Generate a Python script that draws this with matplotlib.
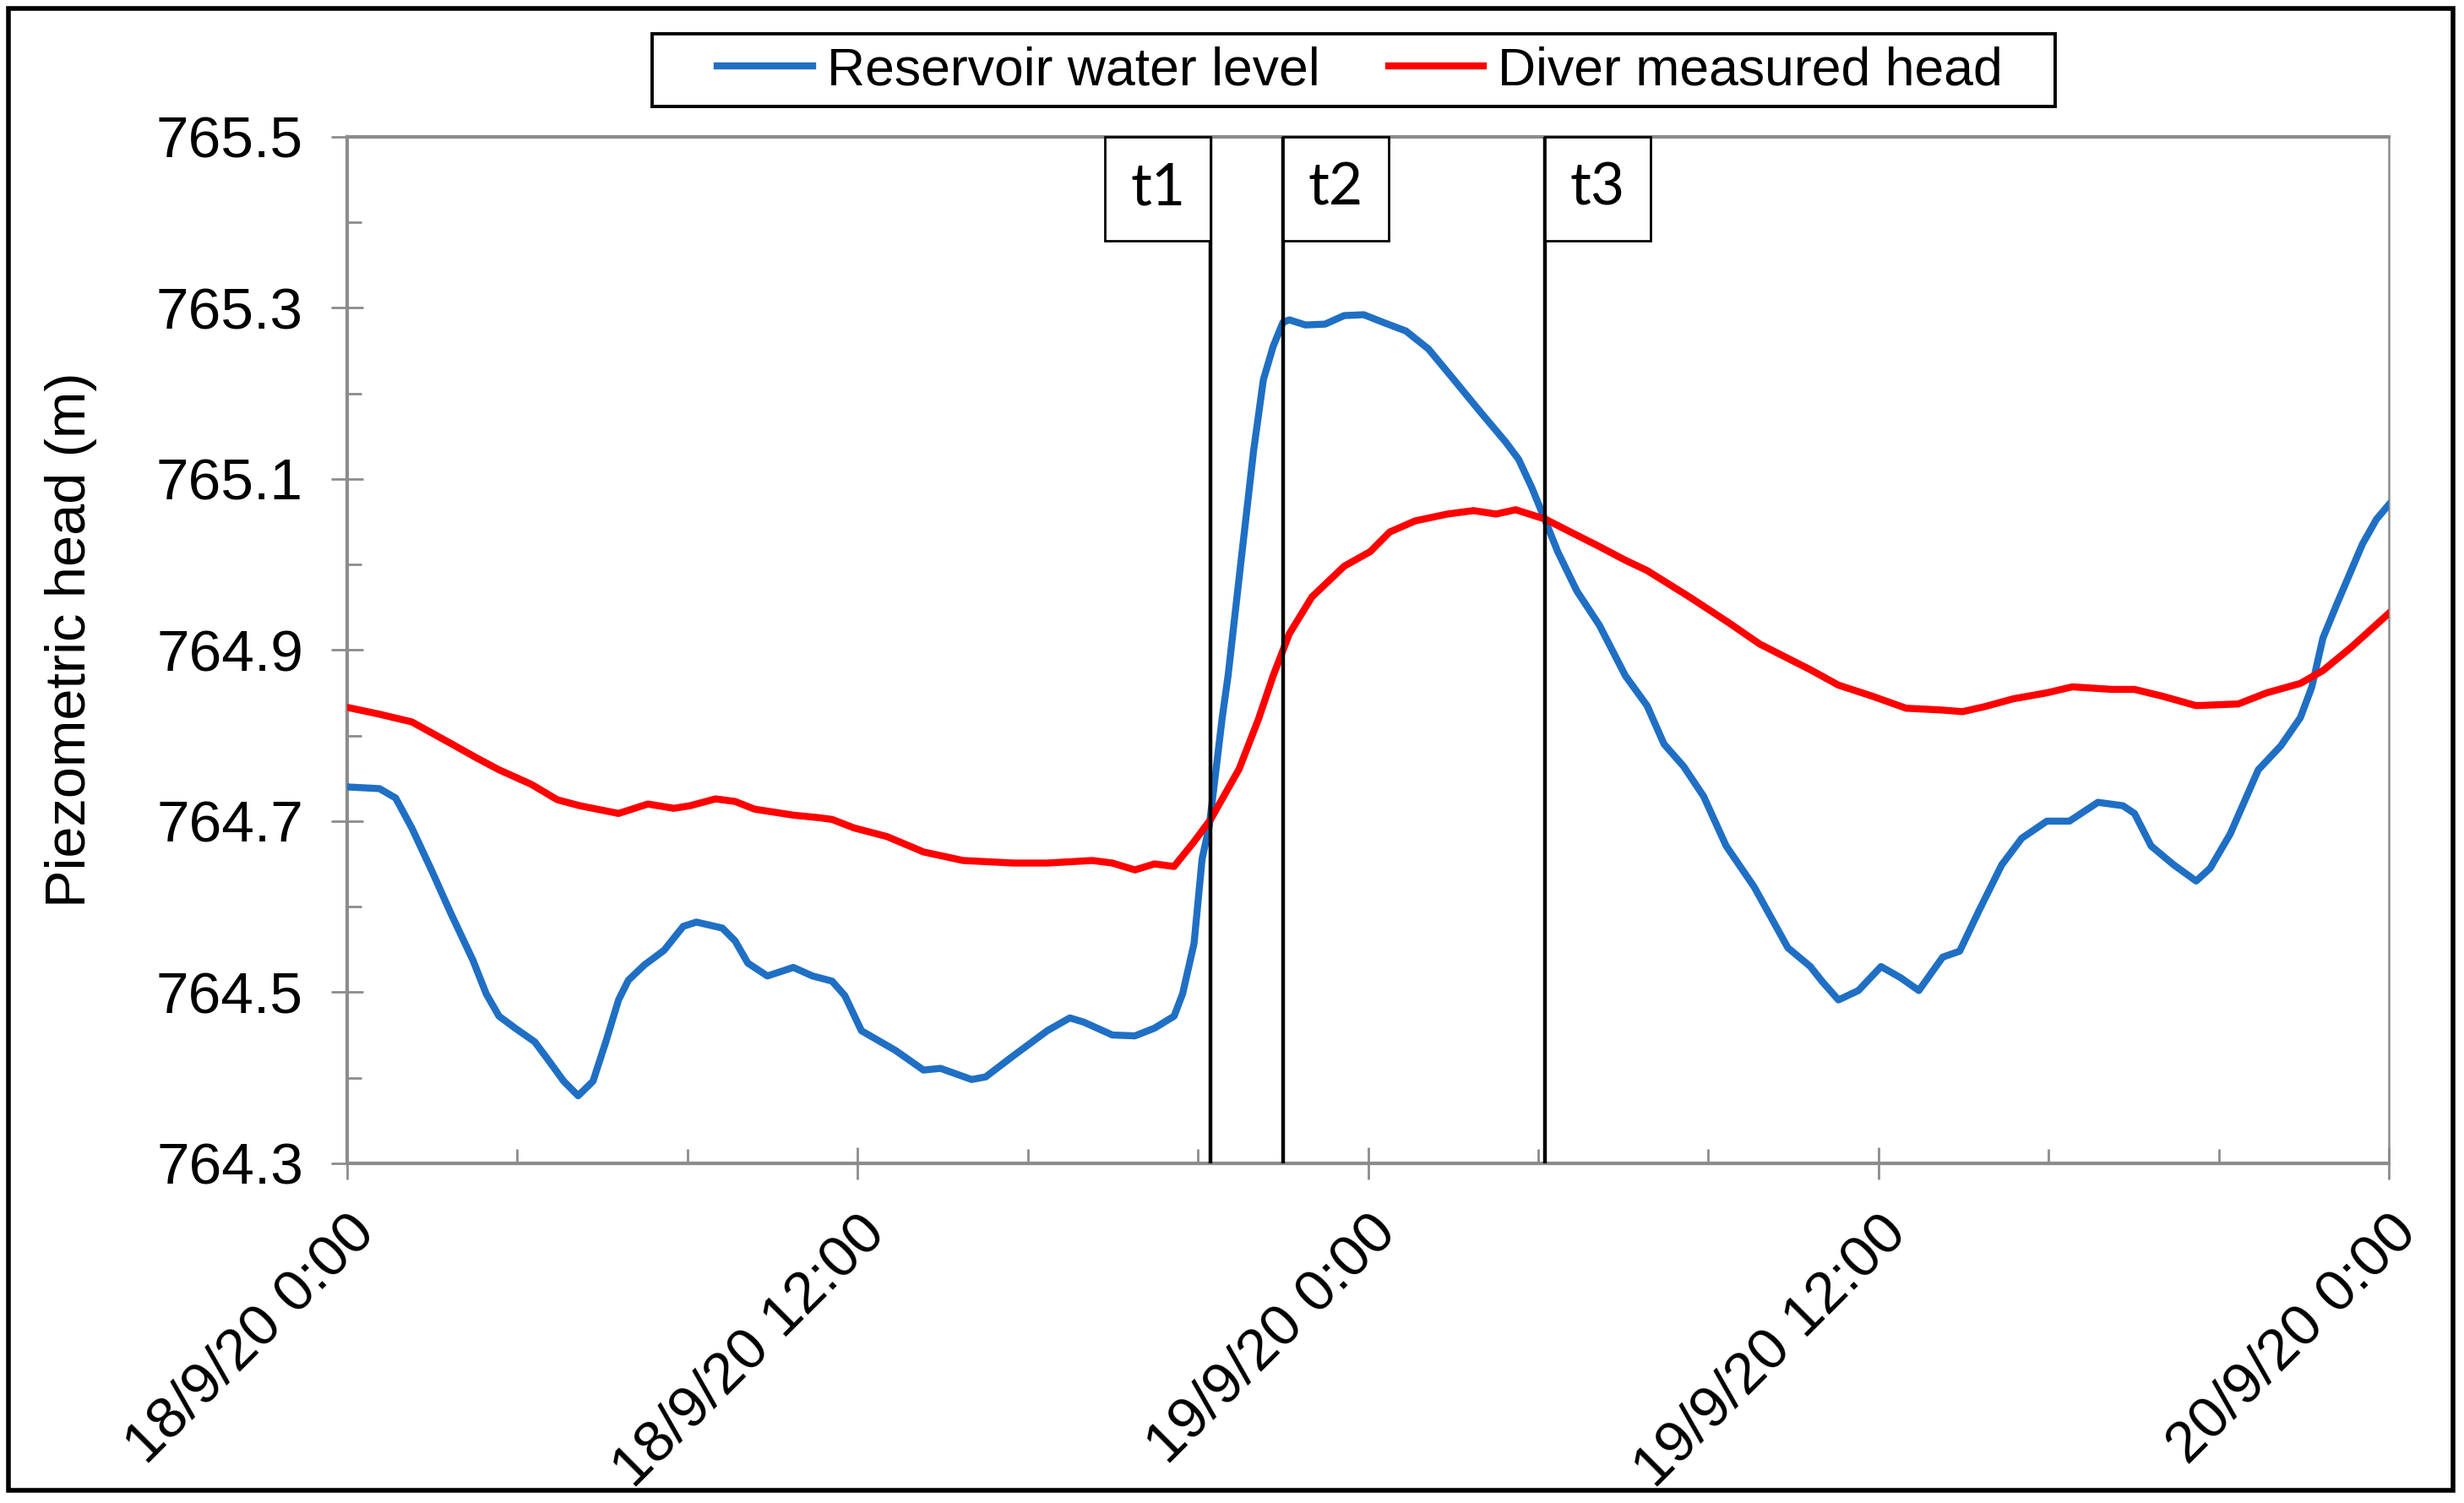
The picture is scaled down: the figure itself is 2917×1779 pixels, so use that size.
import matplotlib.pyplot as plt
from matplotlib.patches import Rectangle
from matplotlib.ticker import FixedLocator, FormatStrFormatter
from matplotlib.transforms import ScaledTranslation

# time in hours since 18/9/20 0:00
res_hours = [0, 0.76, 1.14, 1.52, 1.98, 2.43, 2.96, 3.27, 3.57, 3.95, 4.41, 4.71, 5.09, 5.43,
             5.78, 6.08, 6.38, 6.61, 6.99, 7.45, 7.90, 8.21, 8.82, 9.12, 9.42, 9.88, 10.49,
             10.94, 11.40, 11.70, 12.09, 12.89, 13.55, 13.95, 14.68, 15.01, 15.67, 16.46,
             16.99, 17.32, 17.99, 18.52, 18.98, 19.44, 19.64, 19.91, 20.10, 20.27, 20.57,
             20.71, 21.01, 21.31, 21.54, 21.77, 22.00, 22.15, 22.53, 22.99, 23.44, 23.90,
             24.36, 24.89, 25.42, 26.02, 26.63, 27.24, 27.54, 27.85, 28.17, 28.46, 28.91,
             29.44, 30.05, 30.56, 30.96, 31.42, 31.89, 32.42, 33.08, 33.87, 34.40, 34.67,
             35.06, 35.53, 36.06, 36.52, 36.95, 37.51, 37.91, 38.37, 38.90, 39.37, 39.96,
             40.49, 41.16, 41.75, 42.02, 42.41, 42.94, 43.47, 43.80, 44.27, 44.93, 45.46,
             45.92, 46.19, 46.45, 46.78, 47.38, 47.71, 48.0]
res_level = [764.740, 764.738, 764.727, 764.692, 764.643, 764.593, 764.537, 764.498, 764.472,
             764.458, 764.442, 764.422, 764.396, 764.379, 764.396, 764.442, 764.491, 764.514,
             764.532, 764.549, 764.577, 764.582, 764.575, 764.560, 764.534, 764.519, 764.529,
             764.519, 764.513, 764.496, 764.455, 764.432, 764.409, 764.411, 764.398, 764.401,
             764.426, 764.455, 764.470, 764.465, 764.450, 764.449, 764.458, 764.472, 764.498,
             764.557, 764.656, 764.695, 764.820, 764.870, 765.002, 765.133, 765.216, 765.255,
             765.283, 765.286, 765.280, 765.281, 765.291, 765.292, 765.283, 765.273, 765.252,
             765.216, 765.179, 765.143, 765.123, 765.090, 765.051, 765.015, 764.969, 764.929,
             764.870, 764.835, 764.790, 764.764, 764.729, 764.671, 764.623, 764.552, 764.530,
             764.513, 764.491, 764.502, 764.530, 764.517, 764.502, 764.541, 764.548, 764.596,
             764.649, 764.680, 764.700, 764.700, 764.722, 764.718, 764.709, 764.671, 764.649,
             764.630, 764.645, 764.685, 764.760, 764.788, 764.821, 764.857, 764.914, 764.954,
             765.024, 765.053, 765.070]

diver_hours = [0, 0.76, 1.52, 2.43, 3.04, 3.57, 4.33, 4.94, 5.47, 6.38, 7.07, 7.68, 8.06,
               8.66, 9.12, 9.58, 10.49, 11.10, 11.40, 11.92, 12.69, 13.55, 14.48, 15.67,
               16.46, 17.52, 17.99, 18.52, 18.98, 19.44, 19.91, 20.30, 20.97, 21.43, 21.77,
               22.15, 22.68, 23.44, 24.05, 24.51, 25.11, 25.87, 26.48, 27.01, 27.47, 28.17,
               28.76, 29.44, 30.05, 30.56, 31.56, 32.48, 33.21, 34.40, 35.06, 35.86, 36.65,
               37.45, 37.98, 38.51, 39.17, 39.96, 40.56, 41.49, 42.02, 42.68, 43.47, 44.46,
               45.13, 45.92, 46.45, 47.11, 48.0]
diver_head = [764.833, 764.825, 764.816, 764.791, 764.774, 764.760, 764.743, 764.725, 764.718,
              764.709, 764.720, 764.715, 764.718, 764.726, 764.723, 764.714, 764.707, 764.704,
              764.702, 764.692, 764.682, 764.664, 764.654, 764.651, 764.651, 764.654, 764.651,
              764.643, 764.650, 764.647, 764.676, 764.702, 764.761, 764.820, 764.870, 764.919,
              764.962, 764.998, 765.015, 765.038, 765.051, 765.059, 765.063, 765.059, 765.064,
              765.053, 765.038, 765.021, 765.005, 764.993, 764.962, 764.932, 764.907, 764.877,
              764.859, 764.846, 764.832, 764.830, 764.828, 764.834, 764.843, 764.850, 764.857,
              764.854, 764.854, 764.846, 764.835, 764.837, 764.850, 764.861, 764.876, 764.903,
              764.943]

event_names = ["t1", "t2", "t3"]
event_hours = [20.30, 22.00, 28.16]
event_box_side = ["left", "right", "right"]

xtick_hours = [0, 12, 24, 36, 48]
xtick_minor = [4, 8, 16, 20, 28, 32, 40, 44]
xtick_labels = ["18/9/20 0:00", "18/9/20 12:00", "19/9/20 0:00", "19/9/20 12:00", "20/9/20 0:00"]
ytick_major = [764.3, 764.5, 764.7, 764.9, 765.1, 765.3, 765.5]
ytick_minor = [764.4, 764.6, 764.8, 765.0, 765.2, 765.4]

font = "Liberation Sans"
grey = "#8c8c8c"

fig = plt.figure(figsize=(29.17, 17.79), dpi=100)
ax = fig.add_axes([0.1409, 0.226, 0.8286, 0.683])

ax.plot(res_hours, res_level, color="#1F6FC4", lw=6, label="Reservoir water level",
        solid_joinstyle="round", zorder=3)
ax.plot(diver_hours, diver_head, color="#FF0000", lw=6, label="Diver measured head",
        solid_joinstyle="round", zorder=3)

ax.set_xlim(0, 48)
ax.set_ylim(764.3, 765.5)

# vertical event lines with label boxes
box_w = 2.48
box_h = 0.1215
for name, h, side in zip(event_names, event_hours, event_box_side):
    ax.axvline(h, color="black", lw=3.2, zorder=4)
    x0 = h - box_w if side == "left" else h
    ax.add_patch(Rectangle((x0, 765.5 - box_h), box_w, box_h, facecolor="white",
                           edgecolor="black", lw=2, zorder=5, clip_on=False))
    ax.text(x0 + box_w / 2, 765.5 - box_h / 2, name, ha="center", va="center",
            fontsize=50, family="Lato", zorder=6)

ax.xaxis.set_major_locator(FixedLocator(xtick_hours))
ax.xaxis.set_minor_locator(FixedLocator(xtick_minor))
ax.set_xticklabels(xtick_labels, rotation=45, ha="right", va="top",
                   rotation_mode="anchor", fontsize=50, family=font)
shift = ScaledTranslation(-0.15, 0, fig.dpi_scale_trans)
for lab in ax.get_xticklabels():
    lab.set_transform(lab.get_transform() + shift)
ax.yaxis.set_major_locator(FixedLocator(ytick_major))
ax.yaxis.set_minor_locator(FixedLocator(ytick_minor))
ax.yaxis.set_major_formatter(FormatStrFormatter("%.1f"))
for lab in ax.get_yticklabels():
    lab.set_family(font)

ax.tick_params(which="major", direction="inout", length=27, width=2, color=grey,
               labelsize=50, labelcolor="black")
ax.tick_params(axis="y", which="major", pad=24)
ax.tick_params(axis="x", which="major", pad=22)
ax.tick_params(which="minor", direction="in", length=12, width=2, color=grey)

for s in ["left", "bottom", "top"]:
    ax.spines[s].set_color(grey)
    ax.spines[s].set_linewidth(3)
ax.spines["right"].set_color(grey)
ax.spines["right"].set_linewidth(1.8)

fig.text(0.0288, 0.5745, "Piezometric head (m)", rotation=90, ha="center", va="center",
         fontsize=48, family=font)

# legend above the plot
leg = fig.legend(loc="center", bbox_to_anchor=(0.552, 0.953), ncol=2, frameon=False,
                 prop={"family": font, "size": 45}, handlelength=1.8, handletextpad=0.27,
                 columnspacing=1.3)
fig.add_artist(Rectangle((772 / 2917, 1 - 126 / 1779), 1661 / 2917, 86 / 1779,
                         transform=fig.transFigure, facecolor="none", edgecolor="black", lw=2.8))

# outer border
fig.add_artist(Rectangle((0.0034, 0.0084), 0.992, 0.986, transform=fig.transFigure,
                         facecolor="none", edgecolor="black", lw=4))

fig.savefig("out.png", dpi=100)
